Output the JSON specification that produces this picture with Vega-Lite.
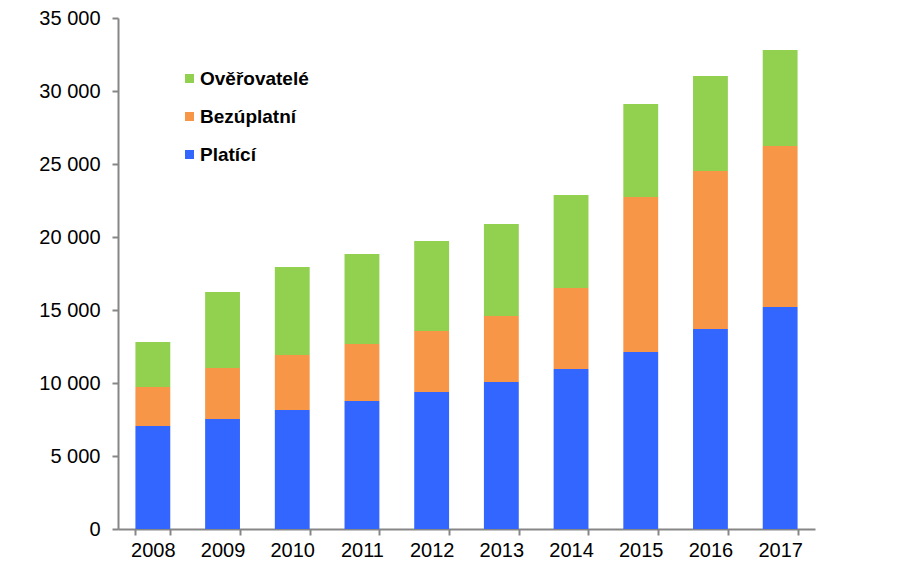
{
  "$schema": "https://vega.github.io/schema/vega-lite/v6.json",
  "width": 697,
  "height": 511,
  "autosize": {"type": "none"},
  "padding": {"left": 118, "top": 18, "right": 88, "bottom": 39},
  "background": "white",
  "data": {
    "values": [
      {"rok": "2008", "typ": "Platící", "poradi": 1, "pocet": 7050},
      {"rok": "2008", "typ": "Bezúplatní", "poradi": 2, "pocet": 2680},
      {"rok": "2008", "typ": "Ověřovatelé", "poradi": 3, "pocet": 3070},
      {"rok": "2009", "typ": "Platící", "poradi": 1, "pocet": 7530},
      {"rok": "2009", "typ": "Bezúplatní", "poradi": 2, "pocet": 3500},
      {"rok": "2009", "typ": "Ověřovatelé", "poradi": 3, "pocet": 5200},
      {"rok": "2010", "typ": "Platící", "poradi": 1, "pocet": 8150},
      {"rok": "2010", "typ": "Bezúplatní", "poradi": 2, "pocet": 3770},
      {"rok": "2010", "typ": "Ověřovatelé", "poradi": 3, "pocet": 6030},
      {"rok": "2011", "typ": "Platící", "poradi": 1, "pocet": 8770},
      {"rok": "2011", "typ": "Bezúplatní", "poradi": 2, "pocet": 3900},
      {"rok": "2011", "typ": "Ověřovatelé", "poradi": 3, "pocet": 6170},
      {"rok": "2012", "typ": "Platící", "poradi": 1, "pocet": 9380},
      {"rok": "2012", "typ": "Bezúplatní", "poradi": 2, "pocet": 4180},
      {"rok": "2012", "typ": "Ověřovatelé", "poradi": 3, "pocet": 6170},
      {"rok": "2013", "typ": "Platící", "poradi": 1, "pocet": 10070},
      {"rok": "2013", "typ": "Bezúplatní", "poradi": 2, "pocet": 4520},
      {"rok": "2013", "typ": "Ověřovatelé", "poradi": 3, "pocet": 6300},
      {"rok": "2014", "typ": "Platící", "poradi": 1, "pocet": 10960},
      {"rok": "2014", "typ": "Bezúplatní", "poradi": 2, "pocet": 5540},
      {"rok": "2014", "typ": "Ověřovatelé", "poradi": 3, "pocet": 6380},
      {"rok": "2015", "typ": "Platící", "poradi": 1, "pocet": 12120},
      {"rok": "2015", "typ": "Bezúplatní", "poradi": 2, "pocet": 10620},
      {"rok": "2015", "typ": "Ověřovatelé", "poradi": 3, "pocet": 6370},
      {"rok": "2016", "typ": "Platící", "poradi": 1, "pocet": 13700},
      {"rok": "2016", "typ": "Bezúplatní", "poradi": 2, "pocet": 10820},
      {"rok": "2016", "typ": "Ověřovatelé", "poradi": 3, "pocet": 6510},
      {"rok": "2017", "typ": "Platící", "poradi": 1, "pocet": 15200},
      {"rok": "2017", "typ": "Bezúplatní", "poradi": 2, "pocet": 11030},
      {"rok": "2017", "typ": "Ověřovatelé", "poradi": 3, "pocet": 6570}
    ]
  },
  "mark": {"type": "bar"},
  "encoding": {
    "x": {
      "field": "rok",
      "type": "nominal",
      "scale": {"paddingInner": 0.5, "paddingOuter": 0.25},
      "axis": {
        "title": null,
        "labelAngle": 0,
        "tickBand": "extent",
        "labelFontSize": 20,
        "labelPadding": 5,
        "tickSize": 6
      }
    },
    "y": {
      "field": "pocet",
      "type": "quantitative",
      "stack": "zero",
      "scale": {"domain": [0, 35000], "nice": false},
      "axis": {
        "title": null,
        "values": [0, 5000, 10000, 15000, 20000, 25000, 30000, 35000],
        "format": ",.0f",
        "grid": false,
        "labelFontSize": 20,
        "labelPadding": 12,
        "tickSize": 6
      }
    },
    "color": {
      "field": "typ",
      "type": "nominal",
      "scale": {
        "domain": ["Ověřovatelé", "Bezúplatní", "Platící"],
        "range": ["#92D050", "#F79646", "#3366FF"]
      },
      "legend": {
        "title": null,
        "orient": "none",
        "legendX": 62,
        "legendY": 51,
        "symbolType": "square",
        "symbolSize": 81,
        "symbolStrokeWidth": 0,
        "labelFontSize": 19,
        "labelFontWeight": "bold",
        "labelColor": "black",
        "rowPadding": 18,
        "labelOffset": 1
      }
    },
    "order": {"field": "poradi", "type": "quantitative", "sort": "ascending"}
  },
  "config": {
    "locale": {
      "number": {"decimal": ",", "thousands": " ", "grouping": [3], "currency": ["", " Kč"]}
    },
    "font": "Liberation Sans",
    "view": {"stroke": null},
    "axis": {
      "domainColor": "#868686",
      "domainWidth": 2,
      "tickColor": "#868686",
      "tickWidth": 2,
      "labelColor": "black",
      "labelFont": "Liberation Sans"
    },
    "legend": {"labelFont": "Liberation Sans"}
  }
}
